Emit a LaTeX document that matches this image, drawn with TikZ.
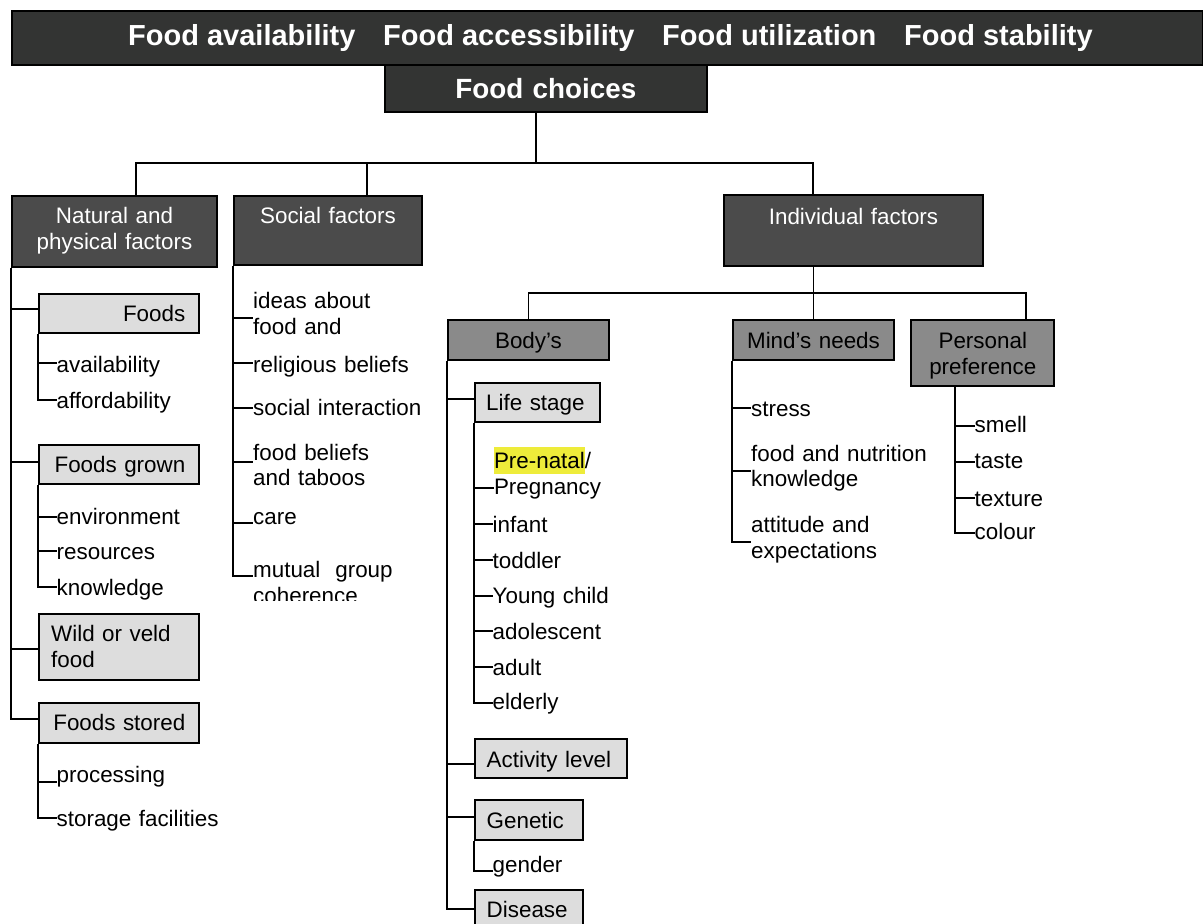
\documentclass[tikz,border=0pt]{standalone}
\usepackage{fontspec}
\setmainfont{Liberation Sans}
\definecolor{bannerc}{HTML}{333433}
\definecolor{lvone}{HTML}{4B4B4B}
\definecolor{lvtwo}{HTML}{8A8A8A}
\definecolor{lvthree}{HTML}{DDDDDD}
\definecolor{hl}{HTML}{EEEC3A}
\begin{document}
\begin{tikzpicture}[x=1pt,y=-1pt,
  every node/.style={font=\fontsize{22.4}{25.7}\selectfont, inner sep=0pt},
  box/.style={draw=black, line width=2pt, anchor=north west, inner sep=0pt, align=center},
  lvonebox/.style={box, fill=lvone, text=white},
  lvtwobox/.style={box, fill=lvtwo, text=black},
  lvthreebox/.style={box, fill=lvthree, text=black},
  leftbox/.style={lvthreebox, inner xsep=12pt, align=left},
  rightbox/.style={lvthreebox, inner xsep=14pt, align=right},
  btxt/.style={anchor=base west, text=white, font=\fontsize{29}{32}\selectfont\bfseries},
  item/.style={anchor=base west, inner sep=0pt, align=left, text width=240pt},
  tree/.style={line width=1.9pt, draw=black}
]
\useasboundingbox (0,0) rectangle (1203,924);
\clip (0,0) rectangle (1203,924);

% ---------- top banner ----------
\node[box, fill=bannerc, minimum width=1191.3pt, minimum height=54pt] (banner) at (10.7,10) {};
\node[btxt] (b1) at (128,45) {Food availability};
\node[btxt] (b2) at (383,45) {Food accessibility};
\node[btxt] (b3) at (662,45) {Food utilization};
\node[btxt] (b4) at (904,45) {Food stability};

\node[box, fill=bannerc, text=white, font=\fontsize{27.8}{30}\selectfont\bfseries,
      text width=321.7pt, text height=33pt, text depth=13.7pt] (fc) at (384,64) {Food choices};

% ---------- level 1 ----------
\node[lvonebox, text width=205pt, text height=27.7pt, text depth=43.3pt] (nat) at (11,195) {Natural and\\physical factors};
\node[lvonebox, text width=188pt, text height=27.7pt, text depth=41.3pt] (soc) at (233,195) {Social factors};
\node[lvonebox, text width=259pt, text height=29pt, text depth=42pt] (ind) at (723,194) {Individual factors};

% ---------- level 2 ----------
\node[lvtwobox, text width=161.6pt, text height=28.4pt, text depth=11.3pt] (body) at (446.7,319.3) {Body’s};
\node[lvtwobox, text width=160.4pt, text height=27.7pt, text depth=11.7pt] (mind) at (732.3,319.3) {Mind’s needs};
\node[lvtwobox, text width=143pt, text height=28.4pt, text depth=37pt] (pers) at (910.3,319.3) {Personal\\preference};

% ---------- level 3 boxes ----------
\node[rightbox, text width=132.6pt, text height=28pt, text depth=11.3pt] (foods) at (37.7,292.7) {Foods};
\node[rightbox, text width=132.6pt, text height=27.7pt, text depth=11.6pt] (grown) at (37.7,444) {Foods grown};
\node[leftbox, inner xsep=12.5pt, text width=135.6pt, text height=27.4pt, text depth=38.3pt] (wild) at (37.7,613.3) {Wild or veld\\food};
\node[rightbox, text width=132.6pt, text height=27pt, text depth=12.4pt] (stored) at (37.7,702.3) {Foods stored};

\node[leftbox, inner xsep=11.5pt, text width=102.6pt, text height=27.6pt, text depth=11.7pt] (life) at (473.7,381.7) {Life stage};
\node[leftbox, text width=128.6pt, text height=29pt, text depth=10.6pt] (act) at (473.7,737.7) {Activity level};
\node[leftbox, text width=84pt, text height=28pt, text depth=12pt] (gen) at (473.7,799.3) {Genetic};
\node[leftbox, text width=84pt, text height=26.7pt, text depth=13.3pt] (dis) at (473.7,889.3) {Disease};

% ---------- items ----------
\node[item] (avail) at (56.5,372.7) {availability};
\node[item] (afford) at (56.5,408.3) {affordability};
\node[item] (env) at (56.5,524.3) {environment};
\node[item] (res) at (56.5,559.3) {resources};
\node[item] (know) at (56.5,595) {knowledge};
\node[item] (proc) at (56.5,782.7) {processing};
\node[item] (stor) at (56.5,826.7) {storage facilities};

\node[item] (ideas) at (253,308.3) {ideas about\\food and};
\node[item] (rel) at (253,372.7) {religious beliefs};
\node[item] (si) at (253,415) {social interaction};
\node[item] (fb) at (253,460) {food beliefs\\and taboos};
\node[item] (care) at (253,524) {care};
\begin{scope}
  \clip (240,550) rectangle (460,600);
  \node[item] (mut) at (253,577.7) {mutual\ \ group\\coherence};
\end{scope}

\node[item] (preg) at (493.8,468.3) {{\setlength\fboxsep{0pt}\colorbox{hl}{\rule[-5.7pt]{0pt}{27.3pt}Pre-natal}}/\\Pregnancy};
\node[item] (infant) at (492.5,532.3) {infant};
\node[item] (todd) at (492.5,568.3) {toddler};
\node[item] (young) at (492.5,603.3) {Young child};
\node[item] (adol) at (492.5,639.3) {adolescent};
\node[item] (adult) at (492.5,675) {adult};
\node[item] (eld) at (492.5,709.3) {elderly};
\node[item] (gender) at (492.5,872.7) {gender};

\node[item] (stress) at (751,416.7) {stress};
\node[item] (fnk) at (751,461) {food and nutrition\\knowledge};
\node[item] (att) at (751,532.3) {attitude and\\expectations};

\node[item] (smell) at (974.5,432.7) {smell};
\node[item] (taste) at (974.5,468.3) {taste};
\node[item] (text) at (974.5,506.7) {texture};
\node[item] (colour) at (974.5,539.3) {colour};

% ---------- connectors: top ----------
\coordinate (busL) at (136,162.7);
\coordinate (busM) at (536,162.7);
\coordinate (busS) at (367,162.7);
\coordinate (busR) at (812.7,162.7);
\draw[tree] (fc.south -| busM) -- (busM);
\draw[tree] (nat.north -| busL) -- (busL) -- (busR) -- (ind.north -| busR);
\draw[tree] (busS) -- (soc.north -| busS);

% individual factors
\coordinate (busP) at (1026,292.7);
\draw[tree] (ind.south -| mind.north) -- (mind.north);
\draw[tree] (body.north) |- (busP) -- (pers.north -| busP);

% ---------- natural subtree ----------
\draw[tree] (nat.south west) -- (nat.south west |- 0,719.3) -- (stored.west |- 0,719.3);
\draw[tree] (nat.south west |- 0,309.3) -- (foods.west |- 0,309.3);
\draw[tree] (nat.south west |- 0,461.7) -- (grown.west |- 0,461.7);
\draw[tree] (nat.south west |- 0,649) -- (wild.west |- 0,649);

\draw[tree] (foods.south west) |- (afford.west |- 0,400);
\draw[tree] (foods.south west |- 0,363.3) -- (avail.west |- 0,363.3);

\draw[tree] (grown.south west) |- (know.west |- 0,587.3);
\draw[tree] (grown.south west |- 0,516.7) -- (env.west |- 0,516.7);
\draw[tree] (grown.south west |- 0,550.7) -- (res.west |- 0,550.7);

\draw[tree] (stored.south west) |- (stor.west |- 0,818.3);
\draw[tree] (stored.south west |- 0,781.7) -- (proc.west |- 0,781.7);

% ---------- social subtree ----------
\draw[tree] (soc.south west) |- (mut.west |- 0,576);
\draw[tree] (soc.south west |- 0,318.3) -- (ideas.west |- 0,318.3);
\draw[tree] (soc.south west |- 0,363.3) -- (rel.west |- 0,363.3);
\draw[tree] (soc.south west |- 0,408.3) -- (si.west |- 0,408.3);
\draw[tree] (soc.south west |- 0,461.7) -- (fb.west |- 0,461.7);
\draw[tree] (soc.south west |- 0,523.3) -- (care.west |- 0,523.3);

% ---------- body subtree ----------
\draw[tree] (body.south west) |- (dis.west |- 0,909.3);
\draw[tree] (body.south west |- 0,399) -- (life.west |- 0,399);
\draw[tree] (body.south west |- 0,764.3) -- (act.west |- 0,764.3);
\draw[tree] (body.south west |- 0,817.3) -- (gen.west |- 0,817.3);

\draw[tree] (life.south west) |- (eld.west |- 0,702.7);
\draw[tree] (life.south west |- 0,488.3) -- (preg.west |- 0,488.3);
\draw[tree] (life.south west |- 0,524.3) -- (infant.west |- 0,524.3);
\draw[tree] (life.south west |- 0,560.3) -- (todd.west |- 0,560.3);
\draw[tree] (life.south west |- 0,595.7) -- (young.west |- 0,595.7);
\draw[tree] (life.south west |- 0,631) -- (adol.west |- 0,631);
\draw[tree] (life.south west |- 0,666.7) -- (adult.west |- 0,666.7);

\draw[tree] (gen.south west) |- (gender.west |- 0,870.7);

% ---------- mind subtree ----------
\draw[tree] (mind.south west) |- (att.west |- 0,541.7);
\draw[tree] (mind.south west |- 0,407.7) -- (stress.west |- 0,407.7);
\draw[tree] (mind.south west |- 0,470.7) -- (fnk.west |- 0,470.7);

% ---------- personal subtree ----------
\coordinate (pv) at (955,384.7);
\draw[tree] (pers.south -| pv) |- (colour.west |- 0,532.7);
\draw[tree] (pv |- 0,425.7) -- (smell.west |- 0,425.7);
\draw[tree] (pv |- 0,462.3) -- (taste.west |- 0,462.3);
\draw[tree] (pv |- 0,498.3) -- (text.west |- 0,498.3);
\end{tikzpicture}
\end{document}
